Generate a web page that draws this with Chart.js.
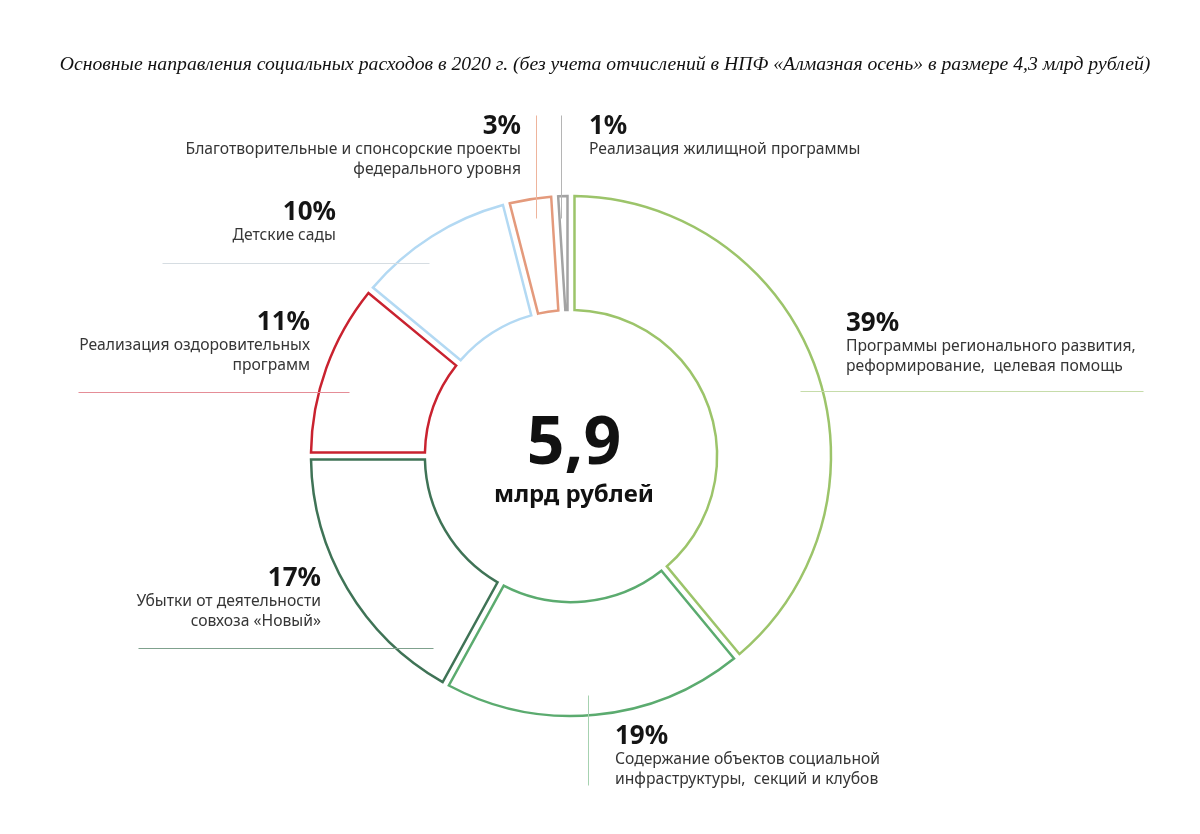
<!DOCTYPE html>
<html>
<head>
<meta charset="utf-8">
<script src="https://cdn.jsdelivr.net/npm/chart.js@4"></script>
<style>
  html, body { margin: 0; padding: 0; background: #fff; }
  canvas { display: block; }
</style>
</head>
<body>
<canvas id="socialChart" width="1200" height="834"></canvas>
<script>
// chart values
var categories = [
    'Программы регионального развития, реформирование, целевая помощь',
    'Содержание объектов социальной инфраструктуры, секций и клубов',
    'Убытки от деятельности совхоза «Новый»',
    'Реализация оздоровительных программ',
    'Детские сады',
    'Благотворительные и спонсорские проекты федерального уровня',
    'Реализация жилищной программы'
];
var shares = [39, 19, 17, 11, 10, 3, 1];
var labelLines = [
    ['Программы регионального развития,', 'реформирование,  целевая помощь'],
    ['Содержание объектов социальной', 'инфраструктуры,  секций и клубов'],
    ['Убытки от деятельности', 'совхоза «Новый»'],
    ['Реализация оздоровительных', 'программ'],
    ['Детские сады'],
    ['Благотворительные и спонсорские проекты', 'федерального уровня'],
    ['Реализация жилищной программы']
];
var totalValue = '5,9';
var totalUnit = 'млрд рублей';
var titleText = 'Основные направления социальных расходов в 2020 г. (без учета отчислений в НПФ «Алмазная осень» в размере 4,3 млрд рублей)';

// styles
var segmentColors = ['#9cc46a', '#5bab6f', '#3f7356', '#c9222f', '#b3d9f3', '#e49a7c', '#a3a3a3'];
var leaderColors = ['#c6dcaa', '#a6d2b0', '#7fa18d', '#e58d97', '#d6dde2', '#eeb49c', '#b5b5b5'];
var gapHalf = 3.5;

// label placement: x, y of the percent, alignment, leader line (x1,y1,x2,y2)
var labelLayout = [
    { x: 846, y: 324, align: 'left',  line: [800, 391, 1143, 391] },
    { x: 615, y: 737, align: 'left',  line: [588, 695, 588, 785] },
    { x: 321, y: 579, align: 'right', line: [138, 648, 433, 648] },
    { x: 310, y: 323, align: 'right', line: [78, 392, 349, 392] },
    { x: 336, y: 213, align: 'right', line: [162, 263, 429, 263] },
    { x: 521, y: 127, align: 'right', line: [536, 115, 536, 218] },
    { x: 589, y: 127, align: 'left',  line: [561, 115, 561, 218] }
];

var sansFont = '"Noto Sans", "Open Sans", sans-serif';

// outlined ring segments with even, parallel gaps between them
var ringPlugin = {
    id: 'outlinedRing',
    beforeDatasetsDraw: function(chart) {
        var c = chart.ctx;
        var meta = chart.getDatasetMeta(0);
        c.save();
        meta.data.forEach(function(arc) {
            var p = arc.getProps(['x', 'y', 'startAngle', 'endAngle', 'innerRadius', 'outerRadius'], true);
            var R = p.outerRadius, r = p.innerRadius;
            var dR = Math.asin(gapHalf / R), dr = Math.asin(gapHalf / r);
            c.beginPath();
            c.arc(p.x, p.y, R, p.startAngle + dR, p.endAngle - dR);
            c.arc(p.x, p.y, r, p.endAngle - dr, p.startAngle + dr, true);
            c.closePath();
            c.fillStyle = arc.options.backgroundColor;
            c.fill();
            c.lineJoin = 'miter';
            c.lineWidth = arc.options.borderWidth;
            c.strokeStyle = arc.options.borderColor;
            c.stroke();
        });
        c.restore();
        return false;
    }
};

var labelPlugin = {
    id: 'sliceLabels',
    afterDraw: function(chart) {
        var c = chart.ctx;
        c.save();

        // title
        c.textAlign = 'center';
        c.textBaseline = 'middle';
        c.fillStyle = '#111';
        c.font = 'italic 19.7px "Liberation Serif", "DejaVu Serif", serif';
        c.fillText(titleText, 605, 65);

        labelLayout.forEach(function(lay, i) {
            var l = lay.line;
            c.strokeStyle = leaderColors[i];
            c.lineWidth = 1;
            c.beginPath();
            c.moveTo(l[0] + 0.5, l[1] + 0.5);
            c.lineTo(l[2] + 0.5, l[3] + 0.5);
            c.stroke();

            c.textAlign = lay.align;
            c.textBaseline = 'middle';
            c.fillStyle = '#151515';
            c.font = 'bold 26px ' + sansFont;
            c.fillText(shares[i] + '%', lay.x, lay.y);
            c.fillStyle = '#363636';
            c.font = '15.7px ' + sansFont;
            labelLines[i].forEach(function(t, k) {
                c.fillText(t, lay.x, lay.y + 23 + k * 20);
            });
        });

        // total in the centre of the ring
        var arc = chart.getDatasetMeta(0).data[0];
        c.textAlign = 'center';
        c.fillStyle = '#111';
        c.font = 'bold 66px ' + sansFont;
        c.fillText(totalValue, arc.x + 3, arc.y - 11);
        c.font = 'bold 24px ' + sansFont;
        c.fillText(totalUnit, arc.x + 3, arc.y + 39);
        c.restore();
    }
};

var ctx = document.getElementById('socialChart').getContext('2d');

var chart = new Chart(ctx, {
    type: 'doughnut',
    data: {
        labels: categories,
        datasets: [{
            data: shares,
            backgroundColor: '#ffffff',
            borderColor: segmentColors,
            borderWidth: 2.5,
            hoverOffset: 0
        }]
    },
    options: {
        responsive: false,
        animation: false,
        events: [],
        radius: 260,
        cutout: '56.2%',
        layout: {
            padding: { left: 0, right: 58, top: 78, bottom: 0 }
        },
        plugins: {
            legend: { display: false },
            tooltip: { enabled: false },
            title: { display: false }
        }
    },
    plugins: [ringPlugin, labelPlugin]
});
</script>
</body>
</html>
